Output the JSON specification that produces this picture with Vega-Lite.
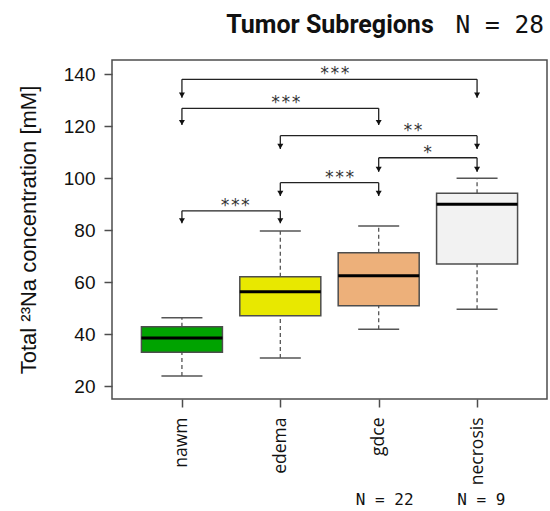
{
  "$schema": "https://vega.github.io/schema/vega-lite/v6.json",
  "width": 435,
  "height": 339,
  "autosize": {"type": "none"},
  "padding": {"left": 112, "top": 60, "right": 3, "bottom": 112},
  "background": "white",
  "config": {
    "view": {"stroke": "#4d4d4d", "strokeWidth": 1.5},
    "axis": {"grid": false, "domain": false}
  },
  "datasets": {
    "boxes": [
      {"cat": "nawm", "x": 1, "lower": 23.8, "q1": 33.0, "median": 38.5, "q3": 42.8, "upper": 46.3},
      {"cat": "edema", "x": 2, "lower": 30.8, "q1": 47.0, "median": 56.3, "q3": 62.0, "upper": 79.6},
      {"cat": "gdce", "x": 3, "lower": 41.8, "q1": 50.9, "median": 62.4, "q3": 71.3, "upper": 81.5},
      {"cat": "necrosis", "x": 4, "lower": 49.5, "q1": 66.9, "median": 89.9, "q3": 94.1, "upper": 99.9}
    ],
    "brackets": [
      {"x1": 1, "x2": 4, "yline": 137.96, "stars": "***", "xs": 2.554},
      {"x1": 1, "x2": 3, "yline": 126.8, "stars": "***", "xs": 2.056},
      {"x1": 2, "x2": 4, "yline": 116.3, "stars": "**", "xs": 3.349},
      {"x1": 3, "x2": 4, "yline": 107.8, "stars": "*", "xs": 3.498},
      {"x1": 2, "x2": 3, "yline": 98.2, "stars": "***", "xs": 2.604},
      {"x1": 1, "x2": 2, "yline": 87.4, "stars": "***", "xs": 1.542}
    ],
    "arrows": [
      {"x": 1, "ytop": 137.96, "ytip": 130.9},
      {"x": 4, "ytop": 137.96, "ytip": 130.9},
      {"x": 1, "ytop": 126.8, "ytip": 120.4},
      {"x": 3, "ytop": 126.8, "ytip": 120.4},
      {"x": 2, "ytop": 116.3, "ytip": 111.2},
      {"x": 4, "ytop": 116.3, "ytip": 111.2},
      {"x": 3, "ytop": 107.8, "ytip": 102.4},
      {"x": 4, "ytop": 107.8, "ytip": 102.4},
      {"x": 2, "ytop": 98.2, "ytip": 93.1},
      {"x": 3, "ytop": 98.2, "ytip": 93.1},
      {"x": 1, "ytop": 87.4, "ytip": 82.6},
      {"x": 2, "ytop": 87.4, "ytip": 82.6}
    ],
    "titles": [
      {"label": "Tumor Subregions", "x": 2.505, "y": 155.7}
    ],
    "counts": [
      {"label": "N = 28", "x": 4.23, "y": 155.9}
    ],
    "samples": [
      {"label": "N = 22", "x": 3.061, "y": -25.8},
      {"label": "N = 9", "x": 4.044, "y": -25.8}
    ]
  },
  "layer": [
    {
      "data": {"name": "boxes"},
      "mark": {"type": "rule", "stroke": "#555555", "strokeWidth": 1.3, "strokeDash": [4, 3]},
      "encoding": {
        "x": {
          "field": "x", "type": "quantitative",
          "scale": {"domain": [0.34, 4.66], "nice": false, "zero": false},
          "axis": {
            "values": [1, 2, 3, 4],
            "labelExpr": "['', 'nawm', 'edema', 'gdce', 'necrosis'][datum.value]",
            "labelAngle": -90,
            "labelFont": "Open Sans",
            "labelFontSize": 17.5,
            "labelColor": "#111111",
            "labelPadding": 10,
            "labelOverlap": false,
            "labelFlush": false,
            "tickSize": 8,
            "tickColor": "#4d4d4d",
            "tickWidth": 1.5,
            "title": null
          }
        },
        "y": {
          "field": "q3", "type": "quantitative",
          "scale": {"domain": [15, 145.4], "nice": false, "zero": false},
          "axis": {
            "values": [20, 40, 60, 80, 100, 120, 140],
            "labelFont": "Liberation Sans",
            "labelFontSize": 19,
            "labelColor": "#111111",
            "labelPadding": 9,
            "tickSize": 8,
            "tickColor": "#4d4d4d",
            "tickWidth": 1.5,
            "title": "Total ²³Na concentration [mM]",
            "titleFont": "Liberation Sans",
            "titleFontSize": 22,
            "titleFontWeight": "normal",
            "titleColor": "#111111",
            "titlePadding": 23
          }
        },
        "y2": {"field": "upper"}
      }
    },
    {
      "data": {"name": "boxes"},
      "mark": {"type": "rule", "stroke": "#555555", "strokeWidth": 1.3, "strokeDash": [4, 3]},
      "encoding": {
        "x": {"field": "x", "type": "quantitative"},
        "y": {"field": "lower", "type": "quantitative"},
        "y2": {"field": "q1"}
      }
    },
    {
      "data": {"name": "boxes"},
      "mark": {"type": "tick", "orient": "horizontal", "size": 41, "thickness": 1.5, "color": "#555555", "opacity": 1},
      "encoding": {
        "x": {"field": "x", "type": "quantitative"},
        "y": {"field": "upper", "type": "quantitative"}
      }
    },
    {
      "data": {"name": "boxes"},
      "mark": {"type": "tick", "orient": "horizontal", "size": 41, "thickness": 1.5, "color": "#555555", "opacity": 1},
      "encoding": {
        "x": {"field": "x", "type": "quantitative"},
        "y": {"field": "lower", "type": "quantitative"}
      }
    },
    {
      "data": {"name": "boxes"},
      "mark": {"type": "bar", "width": 81, "stroke": "#4d4d4d", "strokeWidth": 1.5, "opacity": 1},
      "encoding": {
        "x": {"field": "x", "type": "quantitative"},
        "y": {"field": "q1", "type": "quantitative"},
        "y2": {"field": "q3"},
        "color": {
          "field": "cat", "type": "nominal",
          "scale": {"domain": ["nawm", "edema", "gdce", "necrosis"], "range": ["#00A300", "#E8E800", "#EDB07A", "#F2F2F2"]},
          "legend": null
        }
      }
    },
    {
      "data": {"name": "boxes"},
      "mark": {"type": "tick", "orient": "horizontal", "size": 81, "thickness": 3, "color": "#000000", "opacity": 1},
      "encoding": {
        "x": {"field": "x", "type": "quantitative"},
        "y": {"field": "median", "type": "quantitative"}
      }
    },
    {
      "data": {"name": "brackets"},
      "mark": {"type": "rule", "stroke": "#222222", "strokeWidth": 1.3},
      "encoding": {
        "x": {"field": "x1", "type": "quantitative"},
        "x2": {"field": "x2"},
        "y": {"field": "yline", "type": "quantitative"}
      }
    },
    {
      "data": {"name": "arrows"},
      "mark": {"type": "rule", "stroke": "#222222", "strokeWidth": 1.3},
      "encoding": {
        "x": {"field": "x", "type": "quantitative"},
        "y": {"field": "ytop", "type": "quantitative"},
        "y2": {"field": "ytip"}
      }
    },
    {
      "data": {"name": "arrows"},
      "mark": {"type": "point", "shape": "triangle-down", "filled": true, "size": 36, "color": "#111111", "opacity": 1, "yOffset": -2.5},
      "encoding": {
        "x": {"field": "x", "type": "quantitative"},
        "y": {"field": "ytip", "type": "quantitative"}
      }
    },
    {
      "data": {"name": "brackets"},
      "mark": {"type": "text", "font": "DejaVu Sans Mono", "fontSize": 17, "color": "#333333", "align": "center", "baseline": "alphabetic", "dy": 0},
      "encoding": {
        "x": {"field": "xs", "type": "quantitative"},
        "y": {"field": "yline", "type": "quantitative"},
        "text": {"field": "stars"}
      }
    },
    {
      "data": {"name": "titles"},
      "mark": {"type": "text", "font": "Roboto", "fontSize": 25, "fontWeight": "bold", "color": "#111111", "align": "center", "baseline": "alphabetic"},
      "encoding": {
        "x": {"field": "x", "type": "quantitative"},
        "y": {"field": "y", "type": "quantitative"},
        "text": {"field": "label"}
      }
    },
    {
      "data": {"name": "counts"},
      "mark": {"type": "text", "font": "DejaVu Sans Mono", "fontSize": 24.5, "color": "#111111", "align": "center", "baseline": "alphabetic"},
      "encoding": {
        "x": {"field": "x", "type": "quantitative"},
        "y": {"field": "y", "type": "quantitative"},
        "text": {"field": "label"}
      }
    },
    {
      "data": {"name": "samples"},
      "mark": {"type": "text", "font": "DejaVu Sans Mono", "fontSize": 16, "color": "#111111", "align": "center", "baseline": "alphabetic"},
      "encoding": {
        "x": {"field": "x", "type": "quantitative"},
        "y": {"field": "y", "type": "quantitative"},
        "text": {"field": "label"}
      }
    }
  ]
}
